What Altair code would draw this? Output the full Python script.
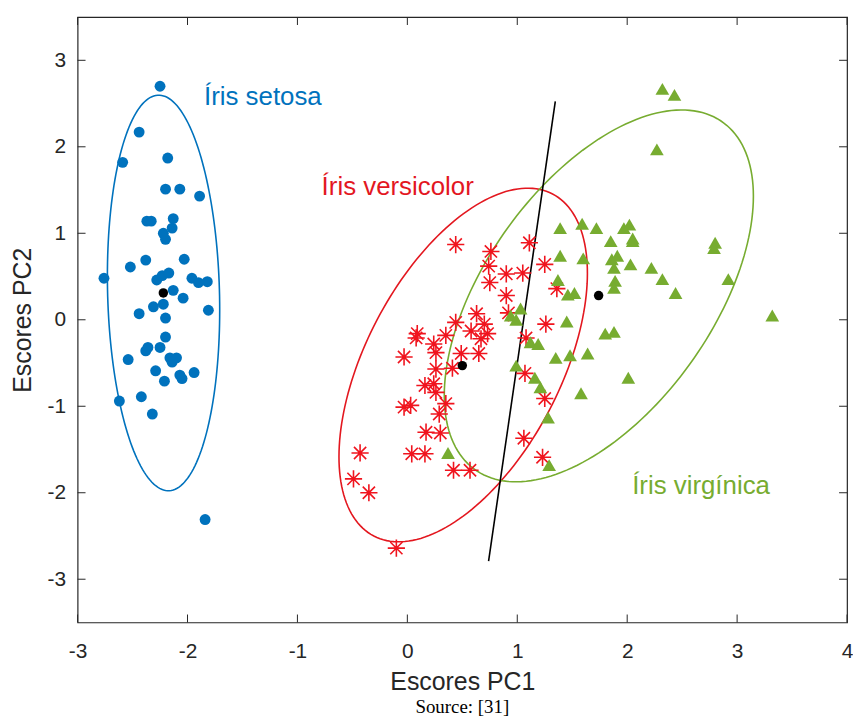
import altair as alt
import numpy as np
import pandas as pd

# ---------------- data ----------------
setosa_x = [-2.25, -2.44, -2.59, -2.18, -2.20, -2.07, -1.89, -2.37, -2.33, -2.13,
            -2.14, -2.22, -2.20, -2.38, -2.03, -2.76, -2.52, -2.28, -2.23, -2.17,
            -1.96, -1.90, -1.82, -2.13, -2.04, -2.31, -2.22, -2.44, -2.20, -1.81,
            -2.20, -2.36, -2.38, -2.25, -2.16, -2.10, -2.14, -2.54, -2.29, -2.07,
            -2.05, -1.94, -2.21, -2.62, -2.42, -2.32, -1.84]
setosa_y = [2.70, 2.17, 1.82, 1.87, 1.51, 1.51, 1.43, 1.14, 1.14, 1.17,
            1.06, 1.00, 0.93, 0.69, 0.70, 0.48, 0.61, 0.46, 0.51, 0.54,
            0.48, 0.43, 0.44, 0.34, 0.25, 0.15, 0.18, 0.07, 0.02, 0.11,
            -0.20, -0.32, -0.36, -0.32, -0.44, -0.44, -0.49, -0.46, -0.59, -0.64,
            -0.68, -0.61, -0.71, -0.94, -0.89, -1.09, -2.31]

versicolor_x = [0.44, 0.76, 0.74, 0.90, 1.05, 1.11, 1.25, 0.75, 0.90, 1.36,
                1.26, 0.63, 0.44, 0.58, 0.70, 0.73, 0.67, 0.09, 0.08, 0.35,
                0.24, 0.26, -0.03, 0.49, 0.65, 0.26, 0.41, 0.16, 0.24, 0.26,
                0.35, -0.03, 0.03, 1.08, 1.07, 1.25, 0.29, 0.17, 0.30, -0.43,
                0.04, 0.16, 0.42, 0.57, -0.49, -0.35, -0.10, 1.06, 1.23, 0.92]
versicolor_y = [0.87, 0.79, 0.62, 0.53, 0.54, 0.89, 0.64, 0.43, 0.28, 0.36,
                -0.05, 0.07, -0.03, -0.13, -0.05, -0.16, -0.22, -0.16, -0.21, -0.18,
                -0.28, -0.38, -0.43, -0.39, -0.39, -0.57, -0.56, -0.76, -0.74, -0.84,
                -0.97, -1.01, -0.99, -0.21, -0.62, -0.91, -1.09, -1.30, -1.31, -1.54,
                -1.55, -1.55, -1.74, -1.74, -1.84, -2.00, -2.64, -1.37, -1.59, 0.08]

virginica_x = [2.32, 2.43, 2.27, 1.39, 1.59, 1.72, 1.97, 2.02, 2.05, 2.05,
               1.85, 2.80, 2.79, 1.39, 1.60, 1.86, 1.91, 2.03, 1.88, 2.22,
               2.32, 2.92, 1.89, 1.88, 1.37, 1.52, 1.46, 2.44, 3.32, 1.80,
               1.88, 1.64, 2.01, 0.94, 0.99, 1.03, 1.45, 1.12, 1.19, 1.35,
               1.48, 0.99, 1.16, 1.21, 1.58, 1.28, 0.37, 1.29]
virginica_y = [2.67, 2.60, 1.97, 1.06, 1.11, 1.06, 1.06, 1.10, 0.94, 0.91,
               0.91, 0.89, 0.83, 0.74, 0.71, 0.70, 0.74, 0.64, 0.60, 0.60,
               0.47, 0.47, 0.45, 0.37, 0.46, 0.31, 0.29, 0.31, 0.05, -0.16,
               -0.14, -0.39, -0.67, 0.05, 0.00, 0.13, -0.02, -0.26, -0.28, -0.44,
               -0.41, -0.53, -0.67, -0.78, -0.85, -1.13, -1.54, -1.68]

# group centroids (black dots)
centroid_x = [-2.22, 0.50, 1.74]
centroid_y = [0.31, -0.53, 0.28]

# confidence ellipses: centre and shape matrix [sxx, sxy, syy]
ell_names = ["setosa", "versicolor", "virginica"]
ell_cx = [-2.218, 0.508, 1.742]
ell_cy = [0.31, -0.523, 0.276]
ell_sxx = [0.261, 1.277, 1.977]
ell_sxy = [-0.10, 1.20, 1.62]
ell_syy = [5.23, 4.18, 4.62]
ell_colors = ["#0072BD", "#E3171F", "#77AC30"]

# discriminant line end points
line_x = [1.346, 0.739]
line_y = [2.525, -2.79]

# annotations
label_text = ["Íris setosa", "Íris versicolor", "Íris virgínica"]
label_x = [-1.85, -0.78, 2.045]
label_y = [2.575, 1.54, -1.92]
label_col = ["#0072BD", "#E3171F", "#77AC30"]

x_ticks = [-3, -2, -1, 0, 1, 2, 3, 4]
y_ticks = [-3, -2, -1, 0, 1, 2, 3]

# ---------------- build tables ----------------
W, H = 774, 609
TL = 8

rows = []
t = np.linspace(0, 2 * np.pi, 181)
for name, cx, cy, a, b, c in zip(ell_names, ell_cx, ell_cy, ell_sxx, ell_sxy, ell_syy):
    L = np.linalg.cholesky(np.array([[a, b], [b, c]]))
    ex = cx + L[0, 0] * np.cos(t)
    ey = cy + L[1, 0] * np.cos(t) + L[1, 1] * np.sin(t)
    for i, (xx, yy) in enumerate(zip(ex, ey)):
        rows.append({"x": xx, "y": yy, "grp": name, "i": i})
ell_df = pd.DataFrame(rows)

set_df = pd.DataFrame({"x": setosa_x, "y": setosa_y})
ver_df = pd.DataFrame({"x": versicolor_x, "y": versicolor_y})
vir_df = pd.DataFrame({"x": virginica_x, "y": virginica_y})
cen_df = pd.DataFrame({"x": centroid_x, "y": centroid_y})
line_df = pd.DataFrame({"x": line_x, "y": line_y, "i": [0, 1]})
lab_df = pd.DataFrame({"x": label_x, "y": label_y, "label": label_text, "col": label_col})
xt_df = pd.DataFrame({"x": x_ticks})
yt_df = pd.DataFrame({"y": y_ticks})

xscale = alt.Scale(domain=[-3, 4], nice=False, zero=False)
yscale = alt.Scale(domain=[-3.5, 3.5], nice=False, zero=False)
X = alt.X("x:Q", scale=xscale,
          axis=alt.Axis(title="Escores PC1", values=x_ticks, labelExpr="'' + datum.value",
                        labelFlush=False, labelPadding=18, titlePadding=8))
Y = alt.Y("y:Q", scale=yscale,
          axis=alt.Axis(title="Escores PC2", values=y_ticks, labelExpr="'' + datum.value",
                        labelFlush=False, labelPadding=12, titlePadding=12))

ellipses = alt.Chart(ell_df).mark_line(strokeWidth=1.6).encode(
    x=X, y=Y, detail="grp:N", order="i:Q",
    color=alt.Color("grp:N", scale=alt.Scale(domain=ell_names, range=ell_colors), legend=None),
)

lda_line = alt.Chart(line_df).mark_line(color="black", strokeWidth=1.6).encode(x=X, y=Y, order="i:Q")

setosa = alt.Chart(set_df).mark_circle(size=120, opacity=1, color="#0072BD").encode(x=X, y=Y)

asterisk = "M-1,0L1,0M0,-1L0,1M-0.71,-0.71L0.71,0.71M-0.71,0.71L0.71,-0.71"
versicolor = alt.Chart(ver_df).mark_point(
    shape=asterisk, filled=False, stroke="#F0141E", strokeWidth=1.6, size=300, opacity=1
).encode(x=X, y=Y)

virginica = alt.Chart(vir_df).mark_point(
    shape="triangle-up", filled=True, color="#77AC30", size=190, opacity=1
).encode(x=X, y=Y)

centroids = alt.Chart(cen_df).mark_circle(size=90, opacity=1, color="black").encode(x=X, y=Y)

labels = alt.Chart(lab_df).mark_text(
    align="left", baseline="middle", font="Liberation Sans", fontSize=26
).encode(x=X, y=Y, text="label:N", color=alt.Color("col:N", scale=None))

tick_col = "#262626"
t_bottom = alt.Chart(xt_df).mark_rule(color=tick_col, strokeWidth=1).encode(
    x=X, y=alt.value(H), y2=alt.value(H - TL))
t_top = alt.Chart(xt_df).mark_rule(color=tick_col, strokeWidth=1).encode(
    x=X, y=alt.value(0), y2=alt.value(TL))
t_left = alt.Chart(yt_df).mark_rule(color=tick_col, strokeWidth=1).encode(
    y=Y, x=alt.value(0), x2=alt.value(TL))
t_right = alt.Chart(yt_df).mark_rule(color=tick_col, strokeWidth=1).encode(
    y=Y, x=alt.value(W), x2=alt.value(W - TL))

chart = alt.layer(
    ellipses, lda_line, setosa, versicolor, virginica, centroids, labels,
    t_bottom, t_top, t_left, t_right
).properties(
    width=W, height=H,
    padding={"left": 2, "top": 6, "right": 0, "bottom": 3},
    title=alt.TitleParams(text="Source: [31]", orient="bottom", anchor="middle",
                          font="Liberation Serif", fontSize=19, fontWeight="normal",
                          color="black", offset=4),
).configure_view(
    stroke="#262626", strokeWidth=1.2
).configure_axis(
    grid=False, domain=False, ticks=False, tickSize=0,
    labelFont="Liberation Sans", labelFontSize=21, labelColor="#262626",
    titleFont="Liberation Sans", titleFontSize=25, titleFontWeight="normal",
    titleColor="#262626",
)

chart.save("out.html", embed_options={"renderer": "svg", "actions": False})
